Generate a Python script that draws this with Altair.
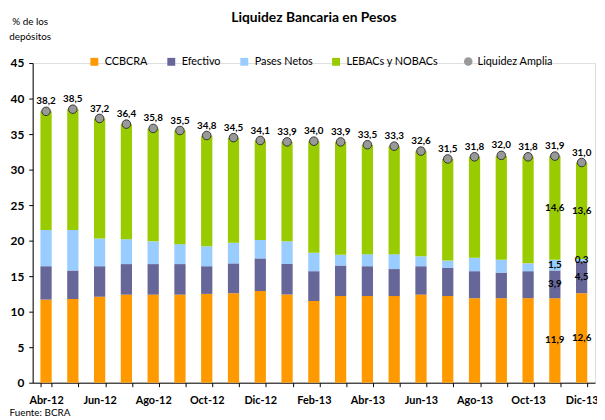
import altair as alt
import pandas as pd

months = ["Abr-12", "May-12", "Jun-12", "Jul-12", "Ago-12", "Sep-12", "Oct-12",
          "Nov-12", "Dic-12", "Ene-13", "Feb-13", "Mar-13", "Abr-13", "May-13",
          "Jun-13", "Jul-13", "Ago-13", "Sep-13", "Oct-13", "Nov-13", "Dic-13"]
shown_labels = ["Abr-12", "Jun-12", "Ago-12", "Oct-12", "Dic-12", "Feb-13",
                "Abr-13", "Jun-13", "Ago-13", "Oct-13", "Dic-13"]

ccbcra = [11.7, 11.8, 12.1, 12.4, 12.4, 12.4, 12.5, 12.6, 12.9, 12.4, 11.5,
          12.2, 12.2, 12.2, 12.4, 12.2, 11.9, 11.9, 11.9, 11.9, 12.6]
efectivo = [4.7, 4.0, 4.3, 4.3, 4.3, 4.3, 3.9, 4.2, 4.6, 4.3, 4.2,
            4.3, 4.2, 3.8, 4.0, 4.0, 3.8, 3.6, 3.8, 3.9, 4.5]
pases = [5.1, 5.7, 3.9, 3.5, 3.2, 2.8, 2.8, 2.9, 2.6, 3.2, 2.6,
         1.5, 1.7, 2.1, 1.4, 1.0, 1.9, 1.8, 1.1, 1.5, 0.3]
lebacs = [16.7, 17.0, 16.9, 16.2, 15.9, 16.0, 15.6, 14.8, 14.0, 14.0, 15.7,
          15.9, 15.4, 15.2, 14.8, 14.3, 14.2, 14.6, 15.0, 14.6, 13.6]
liquidez = [38.2, 38.5, 37.2, 36.4, 35.8, 35.5, 34.8, 34.5, 34.1, 33.9, 34.0,
            33.9, 33.5, 33.3, 32.6, 31.5, 31.8, 32.0, 31.8, 31.9, 31.0]

series = ["CCBCRA", "Efectivo", "Pases Netos", "LEBACs y NOBACs"]
colors = ["#FF9900", "#666699", "#99CCFF", "#99CC00"]
labeled_months = ["Nov-13", "Dic-13"]

rows = []
for k, (s, vals) in enumerate(zip(series, [ccbcra, efectivo, pases, lebacs])):
    for m, v in zip(months, vals):
        rows.append({"mes": m, "serie": s, "orden": k, "valor": v})
long_df = pd.DataFrame(rows)
tot_df = pd.DataFrame({"mes": months, "total": liquidez,
                       "leyenda": ["Liquidez Amplia"] * len(months)})

FONT = "Lato"

label_expr = "indexof(" + str(shown_labels) + ", datum.value) >= 0 ? datum.value : ''"

x_axis = alt.Axis(
    title="Fuente: BCRA", titleAlign="left", titleAnchor="start",
    titleX=-24, titleY=30, titleBaseline="middle", titleFontSize=10,
    titleFontWeight="normal", titleFont=FONT, titleColor="#000000",
    labelAngle=0, labelExpr=label_expr, labelFontWeight="bold",
    labelFontSize=11, labelFont=FONT, labelColor="#000000", labelPadding=8,
    tickBand="extent", tickSize=4, tickColor="#000000",
    domainColor="#000000", labelOverlap=False,
)
x_scale = alt.Scale(paddingInner=0.58, paddingOuter=0.29)

y_axis = alt.Axis(
    values=list(range(0, 50, 5)), grid=False,
    title=["% de los", "depósitos"], titleAngle=0, titleAlign="center",
    titleX=-3, titleY=-47, titleBaseline="top", titleFontSize=10,
    titleFontWeight="normal", titleFont=FONT, titleLineHeight=15,
    titleColor="#000000",
    labelFontWeight="bold", labelFontSize=12, labelFont=FONT,
    labelColor="#000000", labelPadding=5, tickSize=4,
    tickColor="#000000", domainColor="#000000",
)
y_scale = alt.Scale(domain=[0, 45])


def xe():
    return alt.X("mes:N", sort=months, scale=x_scale, axis=x_axis)


def ye(field, **kw):
    return alt.Y(field, scale=y_scale, axis=y_axis, **kw)


bars = alt.Chart(long_df).mark_bar().encode(
    x=xe(),
    y=ye("valor:Q", stack="zero"),
    color=alt.Color(
        "serie:N", scale=alt.Scale(domain=series, range=colors),
        legend=alt.Legend(
            title=None, orient="none", direction="horizontal",
            legendX=57, legendY=-7, symbolType="square", symbolSize=64,
            symbolStrokeWidth=0, labelFont=FONT, labelFontSize=11,
            labelColor="#000000", columnPadding=18, labelOffset=5, padding=0,
        ),
    ),
    order=alt.Order("orden:Q", sort="ascending"),
)

points = alt.Chart(tot_df).mark_point(
    filled=True, fill="#999999", stroke="#333333", strokeWidth=1,
    size=75, opacity=1,
).encode(
    x=xe(),
    y=ye("total:Q"),
    shape=alt.Shape(
        "leyenda:N", scale=alt.Scale(range=["circle"]),
        legend=alt.Legend(
            title=None, orient="none", direction="horizontal",
            legendX=436, legendY=-7, symbolSize=75,
            symbolFillColor="#999999", symbolStrokeColor="#333333",
            symbolStrokeWidth=1, labelFont=FONT, labelFontSize=11,
            labelColor="#000000", labelOffset=4, padding=0,
        ),
    ),
)

point_labels = alt.Chart(tot_df).transform_calculate(
    lab="replace(format(datum.total, '.1f'), '.', ',')"
).mark_text(
    font=FONT, fontSize=10, fontWeight="bold", color="#000000",
    baseline="bottom", dy=-5,
).encode(
    x=xe(),
    y=ye("total:Q"),
    text="lab:N",
)

seg_labels = alt.Chart(long_df).transform_stack(
    stack="valor", as_=["y0", "y1"], groupby=["mes"],
    sort=[alt.SortField("orden", order="ascending")],
).transform_filter(
    "indexof(" + str(labeled_months) + ", datum.mes) >= 0"
).transform_calculate(
    mid="(datum.y0 + datum.y1) / 2",
    lab="replace(format(datum.valor, '.1f'), '.', ',')",
).mark_text(
    font=FONT, fontSize=10, fontWeight="bold", color="#000000",
    baseline="middle",
).encode(
    x=xe(),
    y=ye("mid:Q"),
    text="lab:N",
)

chart = alt.layer(bars, points, point_labels, seg_labels).properties(
    width=570, height=324,
    autosize=alt.AutoSizeParams(type="none"),
    padding={"left": 25, "top": 53, "right": 2, "bottom": 35},
    title=alt.TitleParams(
        "Liquidez Bancaria en Pesos", font=FONT, fontSize=14,
        fontWeight="bold", anchor="middle", offset=0, dy=8, color="#000000",
    ),
).resolve_scale(shape="independent").configure_view(
    stroke=None
).configure(background="#FFFFFF")

chart.save("out.html", embed_options={"renderer": "svg", "actions": False})
